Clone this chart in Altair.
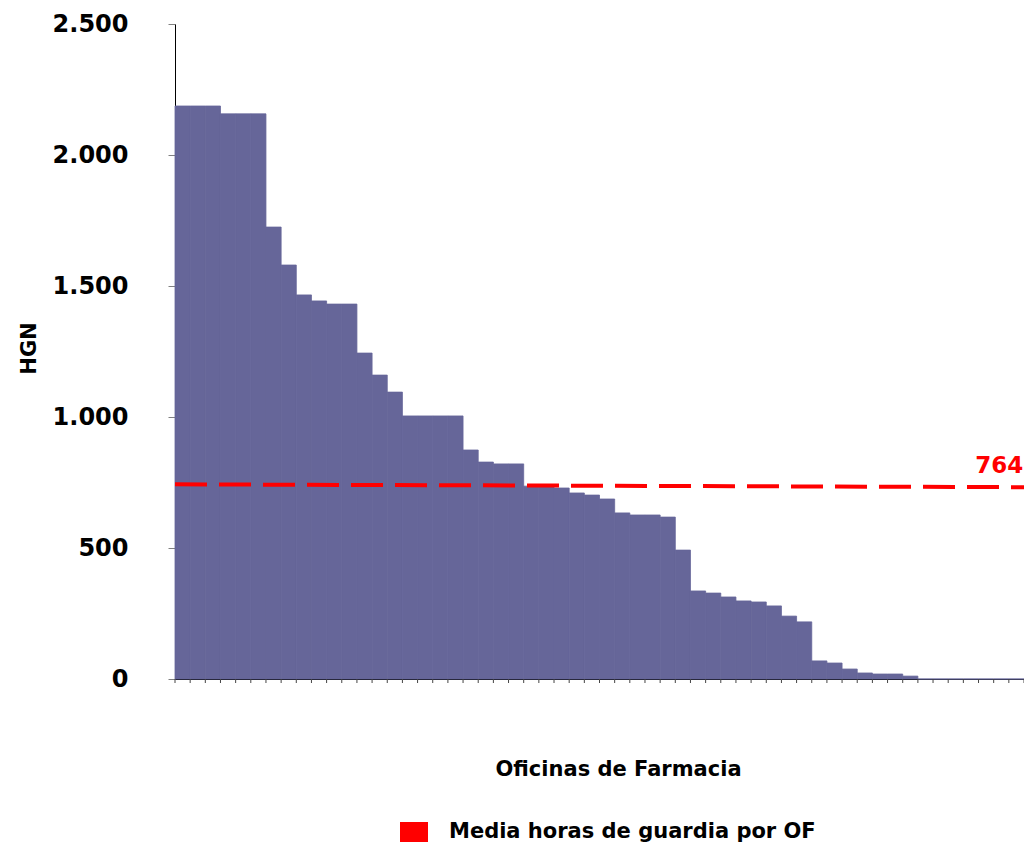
import altair as alt
import pandas as pd

# Hours of on-call duty (HGN) per pharmacy office, sorted descending
hgn_values = [2187, 2187, 2187, 2157, 2157, 2157, 1725, 1580, 1466, 1443,
              1431, 1431, 1244, 1160, 1095, 1004, 1004, 1004, 1004, 874,
              828, 821, 821, 736, 734, 729, 710, 702, 687, 634,
              626, 626, 618, 492, 336, 328, 313, 298, 294, 279,
              240, 218, 69, 61, 38, 23, 19, 19, 11, 0,
              0, 0, 0, 0, 0, 0]
n_of = len(hgn_values)

# Mean line (as drawn, slightly sloped) and its label
mean_x = [0, 56.6]
mean_y = [743, 732]
mean_label = "764"
mean_label_x = [55.95]
mean_label_y = [764]
series_name = "Media horas de guardia por OF"

y_ticks = [0, 500, 1000, 1500, 2000, 2500]
x_tick_positions = list(range(n_of + 1))

FONT = "DejaVu Sans"
PLOT_H = 655

bars_df = pd.DataFrame({"idx": list(range(n_of)), "hgn": hgn_values})
bars_df["idx2"] = bars_df["idx"] + 1
line_df = pd.DataFrame({"x": mean_x, "y": mean_y, "serie": [series_name] * len(mean_x)})
label_df = pd.DataFrame({"x": mean_label_x, "y": mean_label_y, "t": [mean_label]})
ticks_df = pd.DataFrame({"x": x_tick_positions})

xscale = alt.Scale(domain=[0, n_of], nice=False, zero=False)
yscale = alt.Scale(domain=[0, 2500], nice=False)

bars = alt.Chart(bars_df).mark_rect(color="#666699", stroke="#666699", strokeWidth=0.8).encode(
    x=alt.X("idx:Q", scale=xscale,
            axis=alt.Axis(title="Oficinas de Farmacia", values=x_tick_positions,
                          labels=False, ticks=False, grid=False,
                          domainColor="#000000", titleFont=FONT, titleFontSize=21,
                          titleFontWeight="bold", titleColor="#000000",
                          titleX=443, titleY=79, titleBaseline="top")),
    x2="idx2:Q",
    y=alt.Y("hgn:Q", scale=yscale,
            axis=alt.Axis(title="HGN", values=y_ticks, grid=False, tickSize=7,
                          tickColor="#808080", domainColor="#000000",
                          labelExpr="replace(format(datum.value, ','), ',', '.')",
                          labelFont=FONT, labelFontSize=24, labelFontWeight="bold",
                          labelColor="#000000", labelPadding=40,
                          titleFont=FONT, titleFontSize=21, titleFontWeight="bold",
                          titleColor="#000000", titleX=-146, titleY=324,
                          titleBaseline="middle")),
    y2=alt.datum(0),
)

# small category-boundary ticks under the x axis
xticks = alt.Chart(ticks_df).mark_rule(color="#444444", strokeWidth=1).encode(
    x=alt.X("x:Q", scale=xscale),
    y=alt.value(PLOT_H),
    y2=alt.value(PLOT_H + 4),
)

line = alt.Chart(line_df).mark_line(strokeWidth=4, strokeDash=[32, 12]).encode(
    x=alt.X("x:Q", scale=xscale),
    y=alt.Y("y:Q", scale=yscale),
    color=alt.Color("serie:N", scale=alt.Scale(range=["#FF0000"]),
                    legend=alt.Legend(title=None, orient="none", legendX=225, legendY=794,
                                      symbolType="M-1,-0.714L1,-0.714L1,0.714L-1,0.714Z",
                                      symbolSize=784,
                                      symbolFillColor="#FF0000", symbolStrokeWidth=0,
                                      labelFont=FONT, labelFontSize=21, labelFontWeight="bold",
                                      labelColor="#000000", labelOffset=21, padding=0,
                                      labelLimit=600)),
)

label = alt.Chart(label_df).mark_text(color="#FF0000", font=FONT, fontSize=23,
                                      fontWeight="bold", align="right",
                                      baseline="alphabetic", dy=-6).encode(
    x=alt.X("x:Q", scale=xscale),
    y=alt.Y("y:Q", scale=yscale),
    text="t:N",
)

chart = alt.layer(bars, xticks, line, label).properties(
    width=849, height=PLOT_H,
    autosize=alt.AutoSizeParams(type="none"),
    padding={"left": 167, "top": 16, "right": 0, "bottom": 166},
).configure_view(stroke=None)

chart.save("out.html", embed_options={"renderer": "svg", "actions": False})
